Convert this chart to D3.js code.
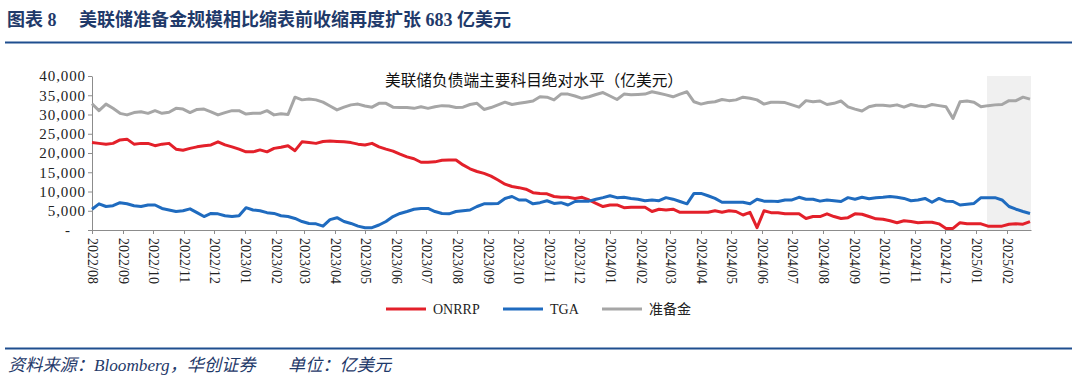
<!DOCTYPE html>
<html>
<head>
<meta charset="utf-8">
<script src="https://cdn.jsdelivr.net/npm/d3@7"></script>
<style>
    body { margin: 0; background: #fff; }
    svg { display: block; }
</style>
</head>
<body>
<svg id="chart"></svg>
<script>
var width = 1080;
var height = 387;
var plotLeft = 92, plotRight = 1031, plotTop = 76, plotBottom = 230;

// weekly observations, first one on 2022/08/01
var startDate = new Date(2022, 7, 1);
var seriesNames = ["ONRRP", "TGA", "准备金"];
var seriesColors = ["#e3202a", "#1f6bbf", "#a6a6a6"];
var yTicks = [0, 5000, 10000, 15000, 20000, 25000, 30000, 35000, 40000];
var shadeStart = new Date(2025, 0, 12);

var onrrp = [
    22700, 22500, 22300, 22500, 23400, 23600, 22300, 22500, 22500, 21900,
    22300, 22500, 21000, 20700, 21200, 21600, 21900, 22100, 22900, 22100,
    21600, 21000, 20300, 20300, 20800, 20300, 21200, 21500, 21900, 20600,
    22900, 22700, 22500, 23000,
    23100, 23000, 22900, 22700, 22300, 22100, 22500, 21600, 21000, 20500,
    19700, 19000, 18500, 17600, 17600, 17700, 18100, 18200, 18200, 16900,
    15900, 15200, 14700, 14000, 13000, 11900, 11300, 11000, 10600, 9700,
    9500, 9400, 8700,
    8500, 8500, 8200, 8500, 7800, 6900, 6100, 6500, 6500, 5800,
    5900, 5900, 5900, 4800, 5400, 5200, 5400, 4600, 4600, 4600,
    4600, 4600, 5000, 4600, 5000, 4800, 3900, 4600, 600, 5000,
    4500, 4500, 4200, 4200,
    4200, 3000, 3500, 3500, 4200, 3500, 3000, 3200, 4200, 4100,
    3500, 2900, 2800, 2400, 1900, 2400, 2200, 1900, 2000, 2000,
    1600, 400, 400, 1900, 1600, 1600, 1600, 1000, 1000, 1000,
    1500, 1600, 1500, 2200
];
var tga = [
    5400, 6800, 6100, 6300, 7100, 6800, 6300, 6100, 6500, 6500,
    5600, 5200, 4800, 5000, 5500, 4500, 3500, 4300, 4200, 3700,
    3500, 3700, 5800, 5200, 5000, 4500, 4300, 3700, 3500, 3000,
    2200, 1700, 1600, 1000,
    2700, 3200, 2200, 1700, 1000, 600, 600, 1300, 2200, 3500,
    4300, 4800, 5400, 5600, 5600, 4800, 4300, 4200, 4800, 5000,
    5200, 6100, 6800, 6800, 6900, 8200, 8700, 7800, 7800, 6800,
    7100, 7600, 6900,
    7100, 6500, 7400, 7500, 7500, 8000, 8400, 8900, 8400, 8500,
    8200, 8000, 7600, 7800, 7600, 8400, 8000, 7400, 6800, 9500,
    9500, 8900, 8200, 7200, 7200, 7200, 7200, 6800, 8000, 7500,
    7500, 7400, 7800, 7800,
    8500, 8000, 8000, 7500, 7800, 7600, 7400, 8400, 8000, 8500,
    8100, 8400, 8500, 8700, 8500, 8200, 7600, 7800, 8200, 7200,
    8200, 7500, 7400, 6500, 6700, 6900, 8400, 8400, 8400, 7800,
    6100, 5400, 4800, 4300
];
var reserves = [
    32800, 31000, 32700, 31600, 30300, 29900, 30500, 30700, 30300, 31000,
    30300, 30600, 31600, 31400, 30500, 31300, 31400, 30700, 29900, 30500,
    31000, 31000, 30100, 30300, 30300, 31000, 29900, 30200, 30000, 34500,
    33800, 34000, 33800, 33200,
    32200, 31200, 31900, 32500, 32700, 32200, 31900, 32900, 32900, 31900,
    31800, 31800, 31600, 32000, 31600, 32000, 32300, 32200, 31800, 31900,
    32600, 32900, 31300, 31800, 32500, 33200, 32600, 32900, 33200, 33500,
    34600, 34500, 33800,
    35300, 35300, 34800, 34200, 34600, 35200, 35700, 34800, 33900, 35300,
    35100, 35200, 35300, 35900, 35500, 35100, 34600, 35300, 35900, 33300,
    32700, 33100, 33300, 33900, 33600, 33800, 34500, 34200, 33800, 32700,
    33200, 33200, 33100, 32500,
    31900, 33600, 33300, 33500, 32600, 32900, 33500, 32000, 31400, 30900,
    32000, 32400, 32400, 32200, 32500, 31900, 32600, 32200, 32000, 32600,
    32300, 32000, 29000, 33300, 33500, 33200, 32000, 32300, 32500, 32600,
    33600, 33600, 34500, 34000
];

var weeks = onrrp.map(function (d, i) {
    return d3.timeDay.offset(startDate, 7 * i);
});
var allSeries = [onrrp, tga, reserves];

var svg = d3.select("#chart")
    .attr("width", width)
    .attr("height", height)
    .attr("xmlns", "http://www.w3.org/2000/svg");

var x = d3.scaleTime()
    .domain([startDate, new Date(2025, 1, 25)])
    .range([plotLeft, plotRight]);
var y = d3.scaleLinear()
    .domain([0, 40000])
    .range([plotBottom, plotTop]);

var serif = "'Liberation Serif', 'Times New Roman', 'Noto Sans CJK SC', serif";

// header
svg.append("text")
    .attr("x", 7)
    .attr("y", 26)
    .style("font-family", serif)
    .style("font-size", "18px")
    .style("font-weight", "bold")
    .style("fill", "#1f3a6a")
    .attr("xml:space", "preserve")
    .text("图表 8");
svg.append("text")
    .attr("x", 79)
    .attr("y", 26)
    .style("font-family", serif)
    .style("font-size", "18px")
    .style("font-weight", "bold")
    .style("fill", "#1f3a6a")
    .text("美联储准备金规模相比缩表前收缩再度扩张 683 亿美元");
svg.append("line")
    .attr("x1", 5).attr("x2", 1072)
    .attr("y1", 42.5).attr("y2", 42.5)
    .attr("stroke", "#1f4e8f")
    .attr("stroke-width", 2);

// shaded recent period
svg.append("rect")
    .attr("x", x(shadeStart))
    .attr("y", plotTop)
    .attr("width", plotRight - x(shadeStart))
    .attr("height", plotBottom - plotTop)
    .style("fill", "#f0f0f0");

svg.append("text")
    .attr("x", 534)
    .attr("y", 86)
    .attr("text-anchor", "middle")
    .style("font-family", serif)
    .style("font-size", "15.7px")
    .style("fill", "#111")
    .text("美联储负债端主要科目绝对水平（亿美元）");

// y axis
var yAxis = svg.append("g")
    .attr("transform", "translate(" + plotLeft + ",0)")
    .call(d3.axisLeft(y)
        .tickValues(yTicks)
        .tickSize(4)
        .tickSizeOuter(0)
        .tickFormat(function (d) {
            return d === 0 ? "-" : d3.format(",")(d);
        }));
yAxis.selectAll("text")
    .attr("x", -6)
    .style("font-family", serif)
    .style("font-size", "15px")
    .style("letter-spacing", "0.9px")
    .style("fill", "#222");
yAxis.selectAll(".tick")
    .filter(function (d) { return d === 0; })
    .select("text")
    .attr("x", -24)
    .attr("text-anchor", "middle");

// x axis
var xAxis = svg.append("g")
    .attr("transform", "translate(0," + plotBottom + ")")
    .call(d3.axisBottom(x)
        .ticks(d3.timeMonth.every(1))
        .tickSize(4)
        .tickSizeOuter(0)
        .tickFormat(d3.timeFormat("%Y/%m")));
xAxis.selectAll("text")
    .attr("transform", "rotate(90)")
    .attr("text-anchor", "start")
    .attr("x", 8)
    .attr("y", 0)
    .attr("dy", "0.35em")
    .style("font-family", serif)
    .style("font-size", "14px")
    .style("fill", "#222");

svg.selectAll(".domain, .tick line")
    .attr("stroke", "#8c8c8c");

// series
var line = d3.line()
    .x(function (d, i) { return x(weeks[i]); })
    .y(function (d) { return y(d); });

svg.selectAll(".series")
    .data(allSeries)
    .enter()
    .append("path")
    .attr("class", "series")
    .attr("d", line)
    .attr("fill", "none")
    .attr("stroke", function (d, i) { return seriesColors[i]; })
    .attr("stroke-width", 3)
    .attr("stroke-linejoin", "round");

// legend
var legendX = [386, 503, 602];
var legend = svg.selectAll(".legend")
    .data(seriesNames)
    .enter()
    .append("g")
    .attr("class", "legend")
    .attr("transform", function (d, i) {
        return "translate(" + legendX[i] + ",309)";
    });
legend.append("line")
    .attr("x1", 0).attr("x2", 40)
    .attr("stroke", function (d, i) { return seriesColors[i]; })
    .attr("stroke-width", 3);
legend.append("text")
    .attr("x", 47)
    .attr("dy", "0.35em")
    .style("font-family", serif)
    .style("font-size", "14px")
    .style("fill", "#222")
    .text(function (d) { return d; });

// footer
svg.append("line")
    .attr("x1", 5).attr("x2", 1072)
    .attr("y1", 348.5).attr("y2", 348.5)
    .attr("stroke", "#1f4e8f")
    .attr("stroke-width", 2);
svg.append("text")
    .attr("x", 8)
    .attr("y", 371)
    .style("font-family", serif)
    .style("font-size", "17.2px")
    .style("font-style", "italic")
    .style("fill", "#1f3a6a")
    .text("资料来源：Bloomberg，华创证券");
svg.append("text")
    .attr("x", 288)
    .attr("y", 371)
    .style("font-family", serif)
    .style("font-size", "17.2px")
    .style("font-style", "italic")
    .style("fill", "#1f3a6a")
    .text("单位：亿美元");
</script>
</body>
</html>
